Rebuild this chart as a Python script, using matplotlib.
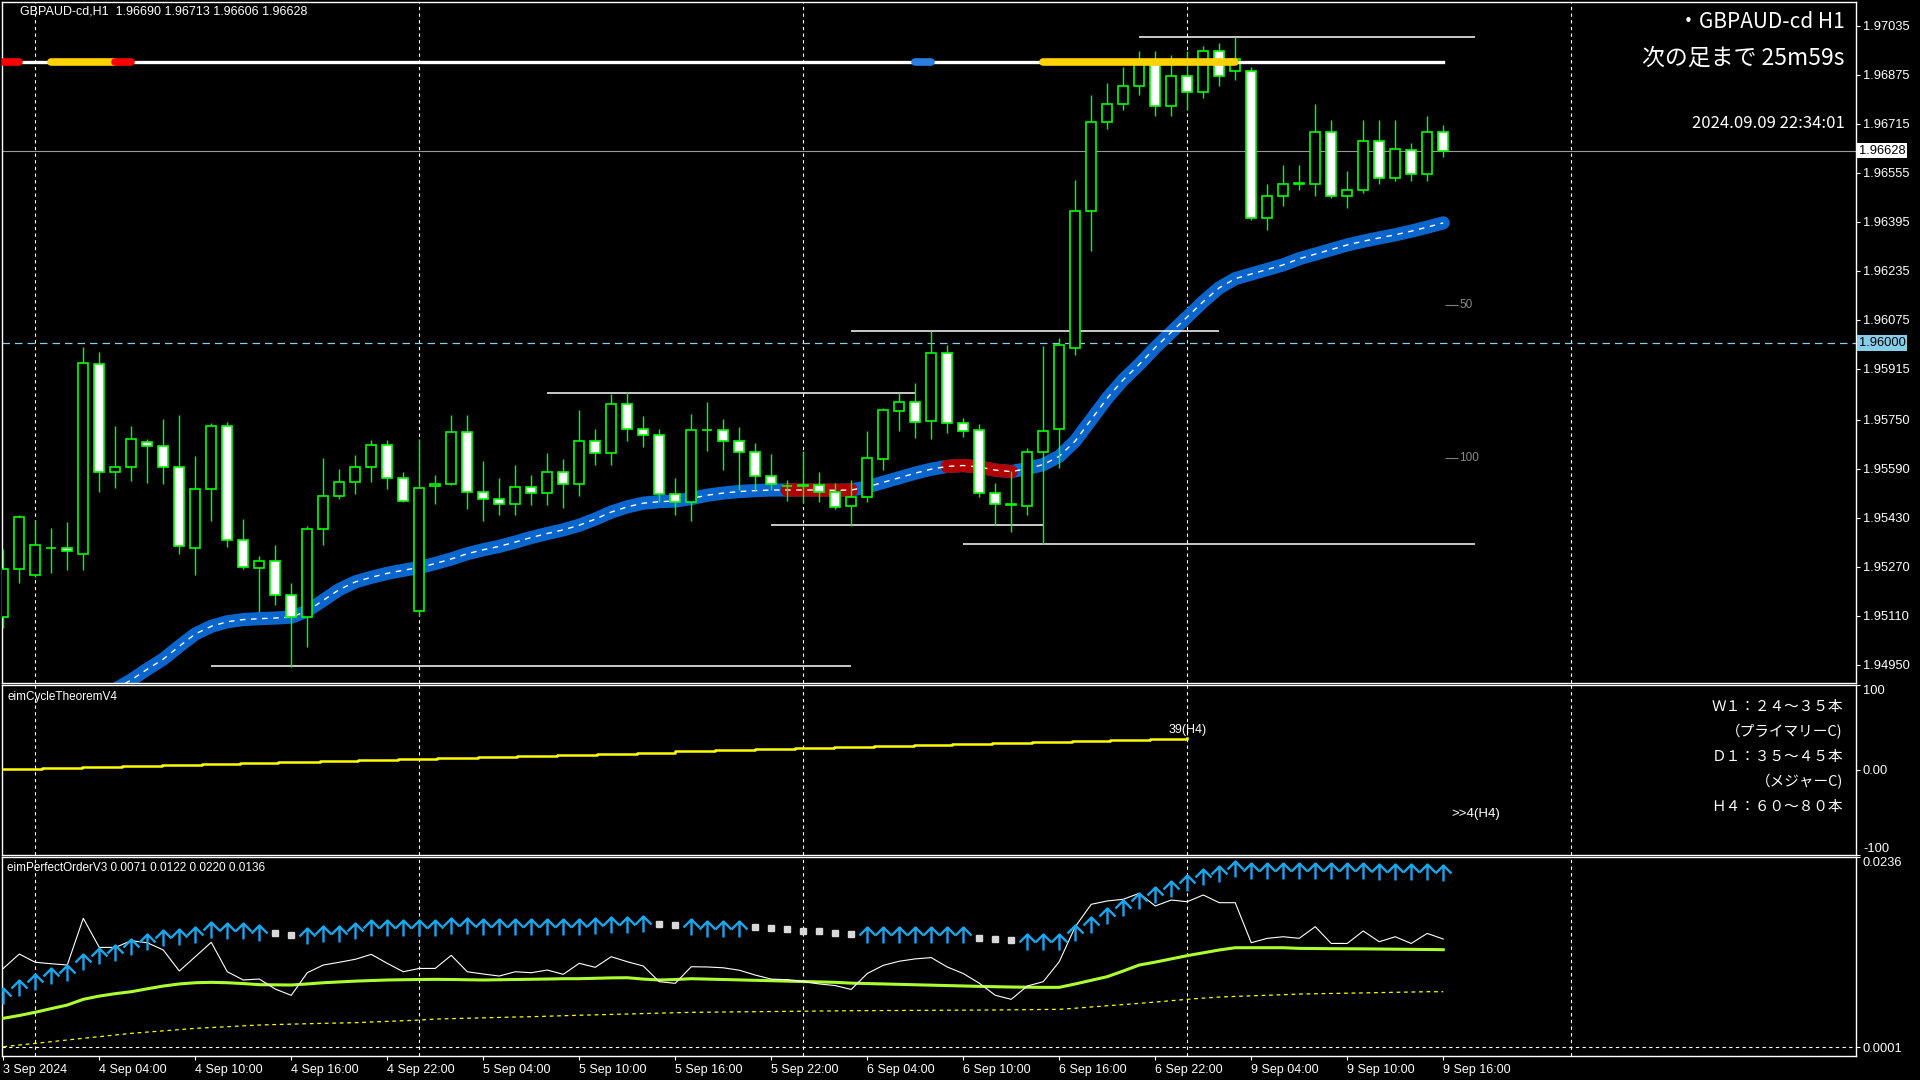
import numpy as np
import matplotlib
matplotlib.use("Agg")
import matplotlib.pyplot as plt
from matplotlib.path import Path
from matplotlib.transforms import blended_transform_factory

# ---------------- data ----------------
symbol = "GBPAUD-cd"

opens = [1.95105, 1.95262, 1.95242, 1.95330, 1.95331, 1.95312, 1.95931, 1.95579, 1.95595, 1.95677,
         1.95664, 1.95595, 1.95330, 1.95523, 1.95729, 1.95357, 1.95265, 1.95288, 1.95177, 1.95105,
         1.95392, 1.95500, 1.95546, 1.95595, 1.95667, 1.95559, 1.95125, 1.95533, 1.95540, 1.95709,
         1.95513, 1.95491, 1.95474, 1.95530, 1.95510, 1.95580, 1.95540, 1.95680, 1.95640, 1.95800,
         1.95720, 1.95700, 1.95508, 1.95480, 1.95716, 1.95716, 1.95679, 1.95643, 1.95565, 1.95533,
         1.95533, 1.95537, 1.95512, 1.95469, 1.95496, 1.95620, 1.95777, 1.95806, 1.95744, 1.95967,
         1.95738, 1.95715, 1.95509, 1.95472, 1.95467, 1.95643, 1.95718, 1.95984, 1.96432, 1.96720,
         1.96780, 1.96840, 1.96912, 1.96772, 1.96872, 1.96820, 1.96952, 1.96888, 1.96888, 1.96408,
         1.96480, 1.96520, 1.96520, 1.96688, 1.96480, 1.96500, 1.96660, 1.96540, 1.96629, 1.96551,
         1.96690]
highs = [1.95327, 1.95438, 1.95422, 1.95396, 1.95415, 1.95988, 1.95971, 1.95729, 1.95729, 1.95687,
         1.95752, 1.95765, 1.95631, 1.95739, 1.95742, 1.95425, 1.95304, 1.95340, 1.95216, 1.95402,
         1.95624, 1.95588, 1.95634, 1.95683, 1.95683, 1.95579, 1.95687, 1.95569, 1.95765, 1.95765,
         1.95614, 1.95560, 1.95600, 1.95570, 1.95640, 1.95620, 1.95780, 1.95720, 1.95832, 1.95840,
         1.95760, 1.95720, 1.95560, 1.95768, 1.95807, 1.95751, 1.95726, 1.95672, 1.95637, 1.95552,
         1.95647, 1.95578, 1.95542, 1.95552, 1.95713, 1.95788, 1.95836, 1.95868, 1.96039, 1.95993,
         1.95755, 1.95735, 1.95542, 1.95583, 1.95656, 1.95990, 1.96016, 1.96532, 1.96808, 1.96849,
         1.96901, 1.96953, 1.96952, 1.96940, 1.96952, 1.96968, 1.96980, 1.97000, 1.96900, 1.96520,
         1.96580, 1.96580, 1.96780, 1.96728, 1.96560, 1.96728, 1.96728, 1.96728, 1.96652, 1.96742,
         1.96713]
lows = [1.95069, 1.95216, 1.95235, 1.95249, 1.95259, 1.95259, 1.95514, 1.95527, 1.95550, 1.95543,
        1.95540, 1.95311, 1.95242, 1.95419, 1.95334, 1.95262, 1.95122, 1.95144, 1.94942, 1.95008,
        1.95340, 1.95490, 1.95507, 1.95546, 1.95523, 1.95481, 1.95110, 1.95474, 1.95536, 1.95457,
        1.95419, 1.95440, 1.95440, 1.95470, 1.95470, 1.95460, 1.95500, 1.95600, 1.95600, 1.95680,
        1.95660, 1.95480, 1.95440, 1.95420, 1.95648, 1.95586, 1.95521, 1.95521, 1.95521, 1.95485,
        1.95478, 1.95482, 1.95459, 1.95403, 1.95482, 1.95586, 1.95713, 1.95691, 1.95687, 1.95705,
        1.95694, 1.95496, 1.95405, 1.95384, 1.95439, 1.95343, 1.95593, 1.95961, 1.96300, 1.96700,
        1.96760, 1.96810, 1.96740, 1.96740, 1.96760, 1.96800, 1.96840, 1.96860, 1.96400, 1.96368,
        1.96448, 1.96500, 1.96480, 1.96472, 1.96440, 1.96488, 1.96520, 1.96528, 1.96529, 1.96529,
        1.96606]
closes = [1.95262, 1.95432, 1.95340, 1.95331, 1.95322, 1.95936, 1.95579, 1.95595, 1.95687, 1.95664,
          1.95595, 1.95337, 1.95523, 1.95729, 1.95357, 1.95268, 1.95288, 1.95177, 1.95105, 1.95392,
          1.95500, 1.95546, 1.95595, 1.95667, 1.95559, 1.95484, 1.95526, 1.95540, 1.95709, 1.95513,
          1.95491, 1.95474, 1.95530, 1.95510, 1.95580, 1.95540, 1.95680, 1.95640, 1.95800, 1.95720,
          1.95700, 1.95508, 1.95480, 1.95716, 1.95717, 1.95679, 1.95643, 1.95565, 1.95539, 1.95534,
          1.95535, 1.95512, 1.95463, 1.95496, 1.95623, 1.95780, 1.95806, 1.95741, 1.95967, 1.95738,
          1.95713, 1.95509, 1.95473, 1.95473, 1.95643, 1.95714, 1.95993, 1.96432, 1.96720, 1.96780,
          1.96840, 1.96912, 1.96772, 1.96872, 1.96820, 1.96952, 1.96872, 1.96928, 1.96408, 1.96480,
          1.96520, 1.96522, 1.96688, 1.96480, 1.96500, 1.96660, 1.96540, 1.96632, 1.96551, 1.96688,
          1.96628]

# moving average (blue band), bars 0..90
ma = [None] * 7 + [
    1.94870, 1.94900, 1.94935, 1.94968, 1.95010, 1.95050, 1.95075, 1.95090, 1.95097, 1.95100,
    1.95102, 1.95105, 1.95125, 1.95160, 1.95195, 1.95220, 1.95235, 1.95248, 1.95258, 1.95267,
    1.95280, 1.95295, 1.95312, 1.95325, 1.95336, 1.95350, 1.95365, 1.95378, 1.95390, 1.95405,
    1.95425, 1.95448, 1.95465, 1.95477, 1.95482, 1.95484, 1.95492, 1.95503, 1.95510, 1.95515,
    1.95518, 1.95520, 1.95520, 1.95520, 1.95520, 1.95519, 1.95520, 1.95530, 1.95545, 1.95560,
    1.95575, 1.95588, 1.95597, 1.95600, 1.95595, 1.95585, 1.95580, 1.95590, 1.95603, 1.95630,
    1.95680, 1.95750, 1.95820, 1.95880, 1.95930, 1.95985, 1.96035, 1.96085, 1.96135, 1.96180,
    1.96210, 1.96225, 1.96240, 1.96255, 1.96275, 1.96290, 1.96305, 1.96320, 1.96332, 1.96343,
    1.96353, 1.96365, 1.96378, 1.96392]
ma_down_spans = [(49, 53), (59, 63)]

# signal strip at the top of the main window (bar spans per colour)
signal_red = [(0, 1), (7, 8)]
signal_yellow = [(3, 7), (65, 77)]
signal_blue = [(57, 58)]

# drawn horizontal lines: (price, first bar, last bar)
hlines = [(1.97000, 71, 92), (1.96040, 53, 76), (1.95837, 34, 57),
          (1.95405, 48, 65), (1.95345, 60, 92), (1.94945, 13, 53)]
round_level = 1.96000
fib_levels = [1.96124, 1.95624]
fib_labels = ["50", "100"]

price_ticks = [1.97035, 1.96875, 1.96715, 1.96555, 1.96395, 1.96235, 1.96075, 1.95915,
               1.95750, 1.95590, 1.95430, 1.95270, 1.95110, 1.94950]

time_labels = ["3 Sep 2024", "4 Sep 04:00", "4 Sep 10:00", "4 Sep 16:00", "4 Sep 22:00",
               "5 Sep 04:00", "5 Sep 10:00", "5 Sep 16:00", "5 Sep 22:00", "6 Sep 04:00",
               "6 Sep 10:00", "6 Sep 16:00", "6 Sep 22:00", "9 Sep 04:00", "9 Sep 10:00",
               "9 Sep 16:00"]
day_breaks = [2, 26, 50, 74, 98]

# eimCycleTheoremV4 (step line)
cycle_x = [0, 2.4, 4.9, 7.4, 9.9, 12.4, 14.8, 17.2, 19.8, 22.2, 24.7, 27.1, 29.7, 32.1, 34.6, 37.1,
           39.6, 42.0, 44.5, 47.0, 49.5, 51.9, 54.4, 56.9, 59.3, 61.8, 64.3, 66.8, 69.2, 71.7, 74.0]
cycle_y = [1.2, 2.4, 3.6, 4.8, 6.1, 7.3, 8.5, 9.7, 10.9, 12.1, 13.3, 14.5, 15.7, 16.9, 18.1, 19.3,
           20.5, 21.8, 23.0, 24.2, 25.4, 26.6, 27.8, 29.0, 30.2, 31.4, 32.6, 33.8, 35.0, 36.2, 37.4]
cycle_count = 39
cycle_next = 4
cycle_notes = ["Ｗ１：２４～３５本", "（プライマリーC)", "Ｄ１：３５～４５本", "（メジャーC)", "Ｈ４：６０～８０本"]

# eimPerfectOrderV3
po_white = [0.00982, 0.01160, 0.01058, 0.01040, 0.01024, 0.01602, 0.01242, 0.01242, 0.01325, 0.01300,
            0.01210, 0.00950, 0.01127, 0.01305, 0.00941, 0.00839, 0.00851, 0.00727, 0.00649, 0.00929,
            0.01024, 0.01058, 0.01095, 0.01156, 0.01045, 0.00941, 0.00982, 0.00982, 0.01144, 0.00941,
            0.00913, 0.00888, 0.00941, 0.00929, 0.00962, 0.00909, 0.01045, 0.00996, 0.01127, 0.01065,
            0.01012, 0.00818, 0.00798, 0.01003, 0.01000, 0.00990, 0.00960, 0.00900, 0.00850, 0.00843,
            0.00820, 0.00790, 0.00770, 0.00722, 0.00919, 0.01020, 0.01071, 0.01100, 0.01116, 0.01000,
            0.00919, 0.00800, 0.00650, 0.00600, 0.00764, 0.00818, 0.01065, 0.01498, 0.01775, 0.01816,
            0.01837, 0.01911, 0.01754, 0.01828, 0.01807, 0.01890, 0.01795, 0.01795, 0.01300, 0.01354,
            0.01374, 0.01354, 0.01498, 0.01291, 0.01291, 0.01445, 0.01312, 0.01374, 0.01291, 0.01415,
            0.01346]
po_lime = [0.00365, 0.00400, 0.00440, 0.00485, 0.00529, 0.00600, 0.00640, 0.00670, 0.00694, 0.00730,
           0.00764, 0.00790, 0.00805, 0.00810, 0.00805, 0.00795, 0.00781, 0.00779, 0.00777, 0.00790,
           0.00805, 0.00815, 0.00825, 0.00832, 0.00839, 0.00842, 0.00845, 0.00847, 0.00845, 0.00842,
           0.00839, 0.00842, 0.00845, 0.00848, 0.00851, 0.00855, 0.00855, 0.00860, 0.00865, 0.00867,
           0.00850, 0.00839, 0.00845, 0.00855, 0.00850, 0.00845, 0.00840, 0.00835, 0.00830, 0.00825,
           0.00820, 0.00815, 0.00810, 0.00800, 0.00795, 0.00790, 0.00785, 0.00780, 0.00775, 0.00770,
           0.00765, 0.00760, 0.00756, 0.00752, 0.00750, 0.00748, 0.00748, 0.00790, 0.00835, 0.00880,
           0.00950, 0.01024, 0.01060, 0.01100, 0.01140, 0.01175, 0.01210, 0.01238, 0.01238, 0.01238,
           0.01238, 0.01230, 0.01228, 0.01226, 0.01225, 0.01224, 0.01222, 0.01220, 0.01218, 0.01216,
           0.01214]
po_yellow = [0.00014, 0.00035, 0.00055, 0.00076, 0.00097, 0.00118, 0.00138, 0.00159, 0.00179, 0.00195,
             0.00210, 0.00225, 0.00241, 0.00251, 0.00261, 0.00272, 0.00282, 0.00288, 0.00293, 0.00298,
             0.00303, 0.00307, 0.00311, 0.00319, 0.00327, 0.00335, 0.00343, 0.00356, 0.00361, 0.00366,
             0.00371, 0.00376, 0.00381, 0.00385, 0.00391, 0.00397, 0.00403, 0.00408, 0.00413, 0.00418,
             0.00424, 0.00429, 0.00434, 0.00439, 0.00441, 0.00443, 0.00445, 0.00447, 0.00449, 0.00451,
             0.00453, 0.00455, 0.00457, 0.00459, 0.00460, 0.00461, 0.00462, 0.00463, 0.00464, 0.00465,
             0.00466, 0.00467, 0.00468, 0.00470, 0.00472, 0.00474, 0.00476, 0.00490, 0.00505, 0.00520,
             0.00535, 0.00550, 0.00566, 0.00583, 0.00600, 0.00615, 0.00628, 0.00636, 0.00643, 0.00650,
             0.00657, 0.00665, 0.00669, 0.00672, 0.00676, 0.00679, 0.00683, 0.00687, 0.00690, 0.00694,
             0.00694]
# arrow level per bar (None where a grey square is shown instead)
po_arrow = [0.00736, 0.00839, 0.00909, 0.00982, 0.01024, 0.01156, 0.01231, 0.01272, 0.01342, 0.01408,
            0.01457, 0.01466, 0.01498, 0.01560, 0.01547, 0.01540, 0.01519, None, None, 0.01478,
            0.01507, 0.01507, 0.01540, 0.01581, 0.01581, 0.01581, 0.01581, 0.01581, 0.01609, 0.01609,
            0.01593, 0.01593, 0.01593, 0.01593, 0.01593, 0.01593, 0.01593, 0.01609, 0.01622, 0.01622,
            0.01630, None, None, 0.01593, 0.01571, 0.01571, 0.01571, None, None, None,
            None, None, None, None, 0.01494, 0.01494, 0.01494, 0.01494, 0.01494, 0.01494,
            0.01494, None, None, None, 0.01404, 0.01404, 0.01404, 0.01519, 0.01614, 0.01725,
            0.01828, 0.01918, 0.01993, 0.02067, 0.02137, 0.02208, 0.02249, 0.02314, 0.02290, 0.02290,
            0.02290, 0.02290, 0.02290, 0.02290, 0.02290, 0.02290, 0.02273, 0.02273, 0.02273, 0.02273,
            0.02261]
po_square = [None] * 17 + [0.01416, 0.01395] + [None] * 22 + [0.01531, 0.01519] + [None] * 4 + \
            [0.01490, 0.01480, 0.01465, 0.01450, 0.01440, 0.01425, 0.01410] + [None] * 7 + \
            [0.01360, 0.01345, 0.01333] + [None] * 27
po_header = [0.0071, 0.0122, 0.0220, 0.0136]
po_base = 0.0001

# ---------------- drawing ----------------
W, H = 1920, 1080
GREEN = "#00ff00"
plt.rcParams['font.family'] = ['Liberation Sans', 'DejaVu Sans']
JP = ['Noto Sans CJK JP', 'DejaVu Sans']

fig = plt.figure(figsize=(19.2, 10.8), dpi=100, facecolor="black")


def frame(left, top, right, bottom):
    return [left / W, 1 - bottom / H, (right - left) / W, (bottom - top) / H]


def ftext(px, py, s, **kw):
    fig.text(px / W, 1 - py / H, s, **kw)


ax = fig.add_axes(frame(2, 2, 1856, 683))
ax_c = fig.add_axes(frame(2, 685, 1856, 855), sharex=ax)
ax_p = fig.add_axes(frame(2, 857, 1856, 1056), sharex=ax)

for a in (ax, ax_c, ax_p):
    a.set_facecolor("black")
    for sp in a.spines.values():
        sp.set_color("white")
        sp.set_linewidth(1.0)
    a.yaxis.tick_right()
    a.tick_params(axis="y", colors="white", labelcolor="white", labelsize=9.3, length=3,
                  width=0.8, pad=2, direction="out")
    a.tick_params(axis="x", colors="white", labelcolor="white", labelsize=9, length=3,
                  width=0.8, pad=3, direction="out")
    for xb in day_breaks:
        a.axvline(xb, color="white", lw=0.8, ls=(0, (3, 3)), zorder=1)

n = len(opens)
x = np.arange(n)
o = np.array(opens)
h = np.array(highs)
l = np.array(lows)
c = np.array(closes)
bull = c >= o

ax.set_xlim(-0.08, 115.8)
ax.set_ylim(1.94890, 1.97113)

# moving average band
ma_arr = np.array([np.nan if v is None else v for v in ma])
ax.plot(x, ma_arr, color="#0a66cc", lw=9.5, solid_capstyle="round", zorder=2)
for a0, a1 in ma_down_spans:
    ax.plot(x[a0:a1 + 1], ma_arr[a0:a1 + 1], color="#b00000", lw=9.5,
            solid_capstyle="round", zorder=2.1)
ax.plot(x, ma_arr, color="white", lw=1.0, ls=(0, (4, 4)), zorder=2.2)

# candles
ax.vlines(x, l, h, color=GREEN, lw=1.0, zorder=3)
ax.bar(x, c - o, bottom=o, width=0.64, color=np.where(bull, "black", "white"),
       edgecolor=GREEN, linewidth=1.2, zorder=4)

# horizontal lines
for p, b0, b1 in hlines:
    ax.hlines(p, b0, b1, color="white", lw=1.1, zorder=2.5)
ax.axhline(round_level, color="#87ceeb", lw=0.9, ls=(0, (6, 4)), zorder=1.5)
ax.axhline(c[-1], color="#9a9a9a", lw=0.8, zorder=1.5)
for p, lab in zip(fib_levels, fib_labels):
    ax.hlines(p, n - 1 + 0.1, n - 1 + 0.9, color="#808080", lw=0.8)
    ax.text(n - 1 + 1.0, p, lab, color="#8a8a8a", fontsize=8.5, va="center", ha="left")

# signal strip
strip = blended_transform_factory(ax.transData, ax.transAxes)
ax.plot([0, n - 1], [0.9112, 0.9112], color="white", lw=2.4, transform=strip, zorder=5)
for spans, col in ((signal_yellow, "#ffd200"), (signal_red, "#ff0000"), (signal_blue, "#2a7de1")):
    for b0, b1 in spans:
        ax.plot([b0, b1], [0.9112, 0.9112], color=col, lw=5.5, solid_capstyle="round",
                transform=strip, zorder=6)

ax.set_yticks(price_ticks)
ax.set_yticklabels([f"{p:.5f}" for p in price_ticks])
ylab = blended_transform_factory(ax.transAxes, ax.transData)
ax.text(1.0015, c[-1], f"{c[-1]:.5f}", transform=ylab, color="black", fontsize=9.3, va="center",
        ha="left", bbox=dict(facecolor="white", edgecolor="none", pad=1.2), zorder=10)
ax.text(1.0015, round_level, f"{round_level:.5f}", transform=ylab, color="black", fontsize=9.3,
        va="center", ha="left", bbox=dict(facecolor="#87ceeb", edgecolor="none", pad=1.2), zorder=10)
plt.setp(ax.get_xticklabels(), visible=False)
ax.tick_params(axis="x", length=0)

# eimCycleTheoremV4
ax_c.set_ylim(-100, 100)
ax_c.step(cycle_x, cycle_y, where="post", color="yellow", lw=1.8, zorder=3)
ax_c.text(cycle_x[-1], cycle_y[-1] + 3, f"{cycle_count}(H4)", color="white", fontsize=9,
          ha="center", va="bottom")
ax_c.text(90.5, -52, f">>{cycle_next}(H4)", color="white", fontsize=9.5, ha="left", va="center")
ax_c.set_yticks([100, 0, -100])
ax_c.set_yticklabels(["100", "0.00", "-100"])
tl = ax_c.get_yticklabels()
tl[0].set_va("top")
tl[2].set_va("bottom")
plt.setp(ax_c.get_xticklabels(), visible=False)
ax_c.tick_params(axis="x", length=0)

# eimPerfectOrderV3
ax_p.set_ylim(-0.00101, 0.0236)
ax_p.axhline(po_base, color="white", lw=0.8, ls=(0, (3, 3)), zorder=1)
ax_p.plot(x, np.array(po_yellow), color="yellow", lw=0.9, ls=(0, (3, 3)), zorder=2)
ax_p.plot(x, np.array(po_lime), color="#adff2f", lw=2.2, zorder=3)
ax_p.plot(x, np.array(po_white), color="white", lw=0.8, zorder=4)
arrow = Path([(0, 1), (-0.5, -0.5), (0, 0), (0.5, -0.5), (0, 0), (0, -1)],
             [Path.MOVETO, Path.MOVETO, Path.LINETO, Path.LINETO, Path.MOVETO, Path.LINETO])
arr = np.array([np.nan if v is None else v for v in po_arrow])
sq = np.array([np.nan if v is None else v for v in po_square])
ax_p.plot(x, arr, ls="none", marker=arrow, ms=23, mfc="none", mec="#1aa6ea", mew=1.7, zorder=5)
ax_p.plot(x, sq, ls="none", marker="s", ms=4.2, mfc="#d8d8d8", mec="#d8d8d8", zorder=5)
ax_p.set_yticks([0.0236, po_base])
ax_p.set_yticklabels(["0.0236", "0.0001"])
ax_p.get_yticklabels()[0].set_va("top")
ax_p.set_xticks(np.arange(0, n, 6))
ax_p.set_xticklabels(time_labels, ha="left")

# texts
last = f"{o[-1]:.5f} {h[-1]:.5f} {l[-1]:.5f} {c[-1]:.5f}"
ftext(20, 12, f"{symbol},H1  {last}", color="white", fontsize=9, va="center")
ftext(1845, 22, f"・{symbol} H1", color="white", fontsize=15, va="center", ha="right", family=JP)
ftext(1845, 58, "次の足まで 25m59s", color="white", fontsize=16.5, va="center", ha="right", family=JP)
ftext(1845, 124, "2024.09.09 22:34:01", color="white", fontsize=12, va="center", ha="right", family=JP)
ftext(7, 697, "eimCycleTheoremV4", color="white", fontsize=8.5, va="center")
po_txt = " ".join(f"{v:.4f}" for v in po_header)
ftext(7, 868, f"eimPerfectOrderV3 {po_txt}", color="white", fontsize=8.5, va="center")
for k, s in enumerate(cycle_notes):
    ftext(1843, 707 + 25 * k, s, color="white", fontsize=10.5, va="center", ha="right", family=JP)

fig.savefig("out.png", dpi=100, facecolor="black")
